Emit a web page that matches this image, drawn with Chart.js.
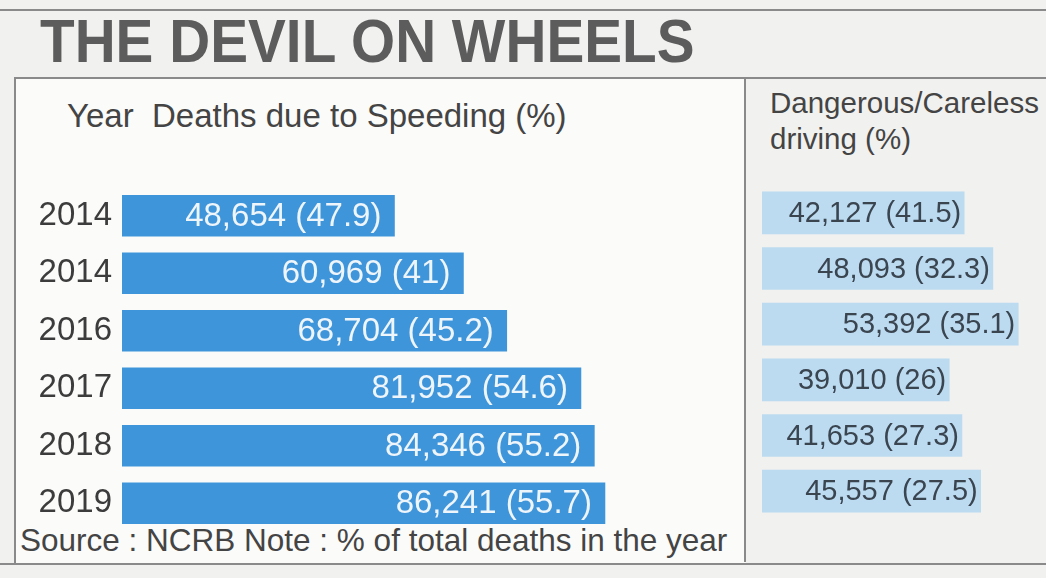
<!DOCTYPE html>
<html>
<head>
<meta charset="utf-8">
<script src="https://cdn.jsdelivr.net/npm/chart.js@4.4.1/dist/chart.umd.min.js"></script>
<style>
  html, body { margin: 0; padding: 0; }
  body {
    width: 1046px; height: 578px; overflow: hidden; position: relative;
    background: #f1f1ef;
    font-family: 'Liberation Sans', Arial, sans-serif;
  }
  .rule { position: absolute; background: #8a8a8a; }
  #title {
    position: absolute; left: 40px; top: 6px;
    font: bold 61px 'Liberation Sans', Arial, sans-serif;
    color: #5c5c5c; letter-spacing: 0;
    transform: scaleX(0.93); transform-origin: left top;
    white-space: nowrap;
  }
  #panel {
    position: absolute; left: 14px; top: 78px; width: 732px; height: 486px;
    background: #fbfbfa;
  }
  .txt { position: absolute; color: #444; white-space: nowrap; }
  #wrapLeft { position: absolute; left: 30px; top: 187px; width: 652px; height: 345px; }
  #wrapRight { position: absolute; left: 762px; top: 185px; width: 288px; height: 334px; }
</style>
</head>
<body>

<div class="rule" style="left:0; top:9px; width:1046px; height:2px;"></div>
<div id="title">THE DEVIL ON WHEELS</div>

<div id="panel"></div>
<div class="rule" style="left:14px; top:77px; width:1032px; height:2px;"></div>
<div class="rule" style="left:14px; top:78px; width:2px; height:486px;"></div>
<div class="rule" style="left:744px; top:78px; width:2px; height:484px;"></div>
<div class="rule" style="left:0; top:563px; width:1046px; height:2px;"></div>

<div class="txt" style="left:67px; top:97px; font-size:33px;">Year&nbsp; Deaths due to Speeding (%)</div>
<div class="txt" style="left:770px; top:85px; font-size:29.5px; line-height:36px;">Dangerous/Careless<br>driving (%)</div>
<div class="txt" style="left:20px; top:522px; font-size:31.5px;">Source : NCRB Note : % of total deaths in the year</div>

<div id="wrapLeft"><canvas id="speeding"></canvas></div>
<div id="wrapRight"><canvas id="careless"></canvas></div>

<script>
// data as printed (the second "2014" is in the original)
const years = ['2014', '2014', '2016', '2017', '2018', '2019'];
const speedingDeaths = [48654, 60969, 68704, 81952, 84346, 86241];
const speedingPct = ['47.9', '41', '45.2', '54.6', '55.2', '55.7'];
const carelessDeaths = [42127, 48093, 53392, 39010, 41653, 45557];
const carelessPct = ['41.5', '32.3', '35.1', '26', '27.3', '27.5'];

const fmt = (n) => n.toLocaleString('en-US');

// writes "deaths (pct)" at the end of each bar
const barText = {
    id: 'barText',
    afterDatasetsDraw(chart, args, opts) {
        const ctx = chart.ctx;
        const meta = chart.getDatasetMeta(0);
        ctx.save();
        ctx.font = opts.font;
        ctx.fillStyle = opts.color;
        ctx.textAlign = 'right';
        ctx.textBaseline = 'middle';
        meta.data.forEach((bar, i) => {
            ctx.fillText(fmt(opts.deaths[i]) + ' (' + opts.pct[i] + ')', bar.x - opts.inset, bar.y + 1);
        });
        ctx.restore();
    }
};

new Chart(document.getElementById('speeding'), {
    type: 'bar',
    data: {
        labels: years,
        datasets: [{
            label: 'Deaths due to Speeding',
            data: speedingDeaths,
            backgroundColor: '#3f95da',
            barThickness: 41
        }]
    },
    options: {
        indexAxis: 'y',
        responsive: true,
        maintainAspectRatio: false,
        animation: false,
        layout: { padding: 0 },
        plugins: {
            legend: { display: false },
            tooltip: { enabled: false },
            barText: { deaths: speedingDeaths, pct: speedingPct, font: '33px "Liberation Sans", Arial, sans-serif', color: '#eef5fb', inset: 13 }
        },
        scales: {
            x: { display: false, min: 0, max: 100000 },
            y: {
                afterFit: (axis) => {
                    axis.width = 92;
                    axis.paddingTop = 0;
                    axis.paddingBottom = 0;
                },
                grid: { display: false, drawTicks: false },
                border: { display: false },
                ticks: { color: '#3c3c3c', padding: 10, font: { size: 33, family: '"Liberation Sans", Arial, sans-serif' } }
            }
        }
    },
    plugins: [barText]
});

new Chart(document.getElementById('careless'), {
    type: 'bar',
    data: {
        labels: years,
        datasets: [{
            label: 'Dangerous/Careless driving',
            data: carelessDeaths,
            backgroundColor: '#bcdbf1',
            barThickness: 42
        }]
    },
    options: {
        indexAxis: 'y',
        responsive: true,
        maintainAspectRatio: false,
        animation: false,
        layout: { padding: 0 },
        plugins: {
            legend: { display: false },
            tooltip: { enabled: false },
            barText: { deaths: carelessDeaths, pct: carelessPct, font: '29px "Liberation Sans", Arial, sans-serif', color: '#3a4550', inset: 3 }
        },
        scales: {
            x: { display: false, min: 0, max: 60000 },
            y: { display: false }
        }
    },
    plugins: [barText]
});
</script>
</body>
</html>
